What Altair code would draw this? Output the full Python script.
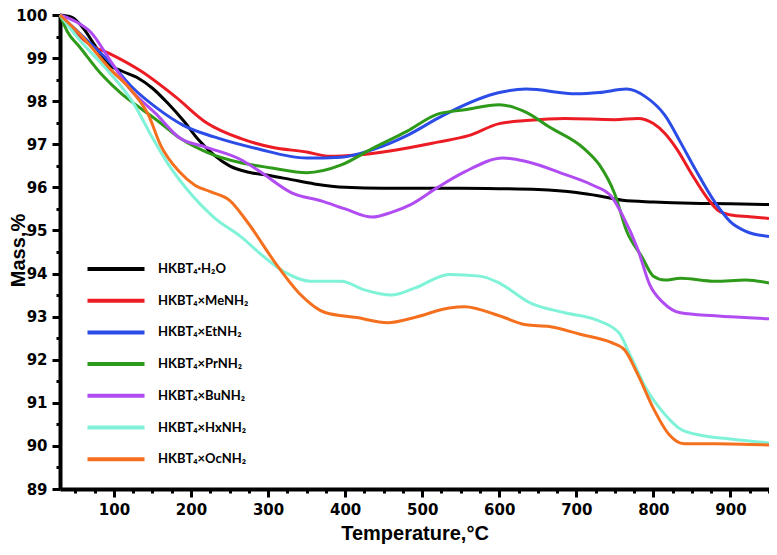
import altair as alt
import pandas as pd

series_names = ["HKBT₄·H₂O", "HKBT₄×MeNH₂", "HKBT₄×EtNH₂", "HKBT₄×PrNH₂",
                "HKBT₄×BuNH₂", "HKBT₄×HxNH₂", "HKBT₄×OcNH₂"]
series_colors = ["#000000", "#ec1c24", "#2b4ce6", "#2e9a1a", "#b04cf2", "#80f2d8", "#f5701e"]

h2o_t = [30, 45, 60, 75, 90, 110, 130, 150, 170, 190, 210, 230, 250, 275, 300, 330, 360, 400, 450, 500, 550, 600, 650, 700, 730, 760, 800, 850, 900, 950]
h2o_m = [100, 99.95, 99.7, 99.3, 98.9, 98.7, 98.55, 98.3, 97.95, 97.55, 97.1, 96.75, 96.5, 96.35, 96.28, 96.18, 96.08, 96.0, 95.98, 95.98, 95.98, 95.97, 95.95, 95.88, 95.8, 95.7, 95.66, 95.63, 95.62, 95.6]

me_t = [30, 50, 70, 95, 135, 180, 220, 265, 305, 350, 380, 415, 460, 520, 560, 600, 635, 685, 750, 780, 800, 815, 830, 850, 870, 885, 900, 925, 950]
me_m = [100, 99.6, 99.3, 99.1, 98.7, 98.1, 97.5, 97.13, 96.93, 96.82, 96.72, 96.75, 96.85, 97.05, 97.2, 97.48, 97.55, 97.6, 97.57, 97.6, 97.48, 97.25, 96.9, 96.3, 95.75, 95.45, 95.36, 95.32, 95.28]

et_t = [30, 60, 95, 125, 155, 190, 230, 285, 350, 395, 435, 480, 520, 535, 600, 635, 700, 730, 765, 790, 815, 835, 855, 880, 900, 920, 950]
et_m = [100, 99.5, 98.9, 98.3, 97.85, 97.44, 97.17, 96.9, 96.68, 96.7, 96.87, 97.2, 97.6, 97.74, 98.2, 98.28, 98.17, 98.2, 98.28, 98.1, 97.67, 97.05, 96.4, 95.65, 95.2, 94.98, 94.86]

pr_t = [30, 40, 55, 85, 110, 135, 160, 185, 220, 265, 305, 350, 395, 435, 480, 520, 555, 600, 635, 665, 710, 730, 750, 765, 785, 800, 815, 835, 880, 920, 950]
pr_m = [100, 99.6, 99.27, 98.6, 98.17, 97.83, 97.5, 97.15, 96.82, 96.57, 96.45, 96.34, 96.52, 96.9, 97.3, 97.7, 97.8, 97.92, 97.74, 97.4, 96.9, 96.52, 95.84, 95.0, 94.39, 93.94, 93.85, 93.89, 93.82, 93.85, 93.78]

bu_t = [30, 50, 70, 95, 120, 155, 185, 220, 265, 290, 330, 370, 400, 435, 460, 485, 520, 555, 605, 635, 685, 720, 745, 760, 780, 795, 813, 835, 880, 950]
bu_m = [100, 99.85, 99.6, 98.95, 98.3, 97.7, 97.15, 96.93, 96.64, 96.36, 95.88, 95.68, 95.5, 95.31, 95.42, 95.6, 96.0, 96.36, 96.68, 96.6, 96.3, 96.06, 95.8, 95.35, 94.55, 93.75, 93.32, 93.09, 93.02, 92.95]

hx_t = [30, 55, 95, 125, 150, 170, 195, 230, 265, 290, 320, 355, 395, 425, 460, 490, 535, 575, 600, 640, 685, 725, 755, 770, 790, 815, 835, 855, 900, 950]
hx_m = [100, 99.43, 98.65, 97.96, 97.15, 96.55, 95.95, 95.3, 94.85, 94.46, 94.05, 93.82, 93.82, 93.62, 93.5, 93.66, 93.98, 93.94, 93.78, 93.32, 93.09, 92.93, 92.63, 92.1, 91.35, 90.73, 90.39, 90.27, 90.16, 90.07]

oc_t = [30, 55, 95, 125, 145, 160, 185, 205, 225, 250, 275, 310, 340, 375, 415, 455, 490, 535, 555, 600, 635, 665, 705, 745, 762, 780, 800, 820, 840, 880, 950]
oc_m = [100, 99.57, 98.75, 98.2, 97.67, 97.0, 96.36, 96.05, 95.9, 95.7, 95.15, 94.23, 93.55, 93.09, 92.98, 92.86, 92.98, 93.2, 93.23, 93.02, 92.81, 92.77, 92.59, 92.4, 92.24, 91.65, 90.87, 90.27, 90.05, 90.05, 90.02]

x_ticks = list(range(50, 951, 25))
y_ticks = [89 + 0.5 * i for i in range(23)]

all_t = [h2o_t, me_t, et_t, pr_t, bu_t, hx_t, oc_t]
all_m = [h2o_m, me_m, et_m, pr_m, bu_m, hx_m, oc_m]

rows = []
for name, ts, ms in zip(series_names, all_t, all_m):
    for t, m in zip(ts, ms):
        rows.append({"series": name, "T": t, "mass": m})
df = pd.DataFrame(rows)

chart = alt.Chart(df).mark_line(strokeWidth=3, interpolate="monotone").encode(
    x=alt.X("T:Q", scale=alt.Scale(domain=[30, 950], nice=False, zero=False),
            axis=alt.Axis(title="Temperature,°C", values=x_ticks,
                          labelExpr="datum.value % 100 === 0 ? format(datum.value, 'd') : ''",
                          tickSize={"condition": {"test": "datum.value % 100 === 0", "value": 8}, "value": 4},
                          labelPadding=5, titlePadding=6)),
    y=alt.Y("mass:Q", scale=alt.Scale(domain=[89, 100], nice=False, zero=False),
            axis=alt.Axis(title="Mass,%", values=y_ticks,
                          labelExpr="datum.value % 1 === 0 ? format(datum.value, 'd') : ''",
                          tickSize={"condition": {"test": "datum.value % 1 === 0", "value": 8}, "value": 4},
                          labelPadding=5, titleX=-32, titleY=235)),
    color=alt.Color("series:N",
                    scale=alt.Scale(domain=series_names, range=series_colors),
                    sort=series_names,
                    legend=alt.Legend(title=None, orient="none", legendX=48, legendY=246,
                                      symbolType="M-5,0H5", symbolSize=130, symbolStrokeWidth=4,
                                      labelOffset=34, rowPadding=15.7, padding=0,
                                      labelFont="Lato", labelFontSize=13, labelFontWeight="bold",
                                      labelColor="#000000")),
).properties(
    width=709, height=474,
    autosize=alt.AutoSizeParams(type="none"),
    padding={"left": 52, "top": 7, "right": 0, "bottom": 58},
).configure_view(stroke=None).configure_axis(
    grid=False, domainColor="#000000", domainWidth=4, tickColor="#000000", tickWidth=3,
    labelFont="DejaVu Sans", labelFontSize=15, labelFontWeight="bold", labelColor="#000000",
    titleFont="Liberation Sans", titleFontSize=20, titleFontWeight="bold", titleColor="#000000",
)

chart.save("out.html", embed_options={"renderer": "svg", "actions": False})
